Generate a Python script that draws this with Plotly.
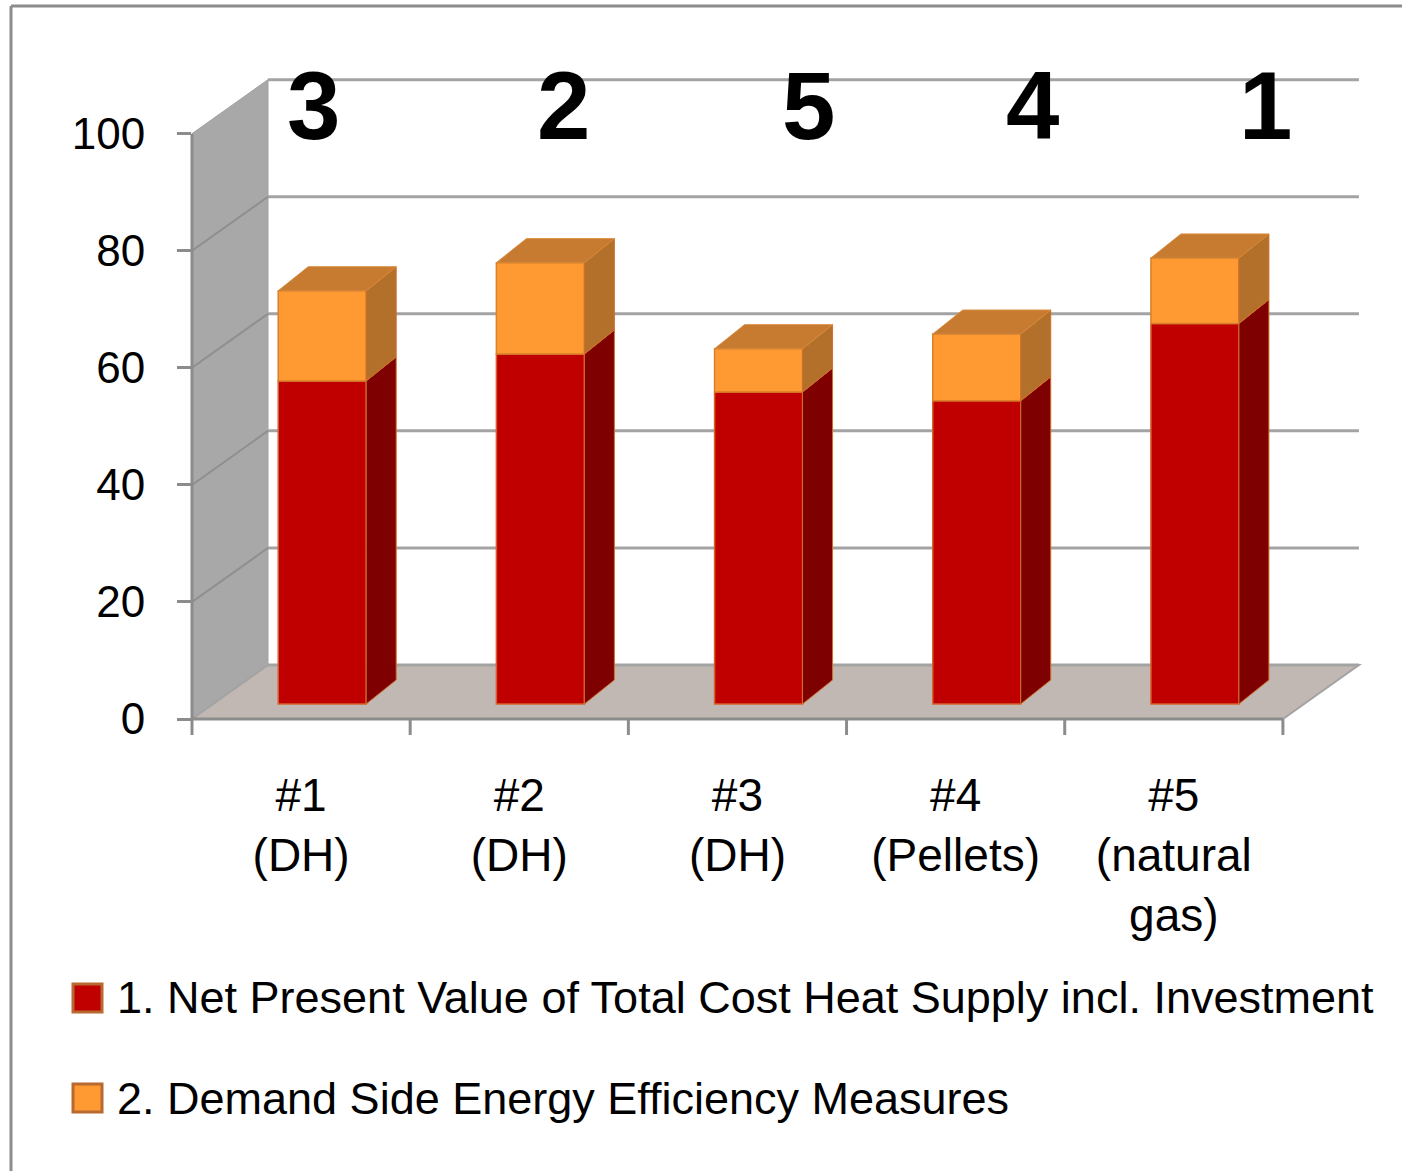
import plotly.graph_objects as go

# ---------------- data ----------------
categories = ["#1<br>(DH)", "#2<br>(DH)", "#3<br>(DH)", "#4<br>(Pellets)", "#5<br>(natural<br>gas)"]
npv_cost = [55.2, 59.8, 53.3, 51.8, 65.0]          # 1. Net Present Value ...
efficiency = [15.4, 15.6, 7.4, 11.4, 11.2]         # 2. Demand Side ...
series_names = ["1. Net Present Value of Total Cost Heat Supply incl. Investment",
                "2. Demand Side Energy Efficiency Measures"]
ranks = ["3", "2", "5", "4", "1"]
y_ticks = [0, 20, 40, 60, 80, 100]

# ---------------- geometry / style ----------------
W, H = 1402, 1171
L_M, R_M, T_M = 192, 10, 40
X_RANGE = [0, 5.5]
Y_RANGE = [0, 116]
PW = W - L_M - R_M
PH = 679
B_M = H - T_M - PH
PXX = PW / (X_RANGE[1] - X_RANGE[0])    # px per x unit
PXY = PH / (Y_RANGE[1] - Y_RANGE[0])    # px per y unit
Y0_PX = T_M + PH                         # pixel row of y=0

DX = 76 / PXX          # depth of the 3D box in x units
DY = 54 / PXY          # depth of the 3D box in y units
Z_FRONT = 15 / 54      # bar front position in depth (0=front,1=back)
BAR_DZ_X = 30 / PXX    # bar depth offsets
BAR_DZ_Y = 24 / PXY
BAR_W = 88 / PXX
n = len(categories)

RED, RED_SIDE = "#C00000", "#7E0000"
ORG, ORG_SIDE, ORG_TOP = "#FF9A33", "#B3702B", "#C67B30"
GRID = "#A3A3A3"
AXIS = "#8C8C8C"
FONT = "Liberation Sans, Arial, sans-serif"


def px_to_paper_x(px):
    return (px - L_M) / PW


def px_to_paper_y(py):
    return (Y0_PX - py) / PH


def path(points):
    return "M " + " L ".join(f"{x:.4f},{y:.4f}" for x, y in points) + " Z"


shapes = []
# left wall
shapes.append(dict(type="path", xref="x", yref="y", layer="below",
                   path=path([(0, 0), (0, 100), (DX, 100 + DY), (DX, DY)]),
                   fillcolor="#A8A8A8", line=dict(color="#A0A0A0", width=1)))
# floor
shapes.append(dict(type="path", xref="x", yref="y", layer="below",
                   path=path([(0, 0), (n, 0), (n + DX, DY), (DX, DY)]),
                   fillcolor="#C1B8B3", line=dict(color="#A3A3A3", width=2)))
# back-wall gridlines and left-wall gridlines
for v in y_ticks:
    shapes.append(dict(type="line", xref="x", yref="y", layer="below",
                       x0=DX, x1=n + DX, y0=v + DY, y1=v + DY,
                       line=dict(color=GRID, width=3)))
    if 0 < v < 100:
        shapes.append(dict(type="line", xref="x", yref="y", layer="below",
                           x0=0, x1=DX, y0=v, y1=v + DY,
                           line=dict(color="#8F8F8F", width=2)))

# bar positions (front face)
x_front = [i + 0.5 + Z_FRONT * DX for i in range(n)]
base0 = Z_FRONT * DY

# side / top faces
for i in range(n):
    xr = x_front[i] + BAR_W / 2
    xl = x_front[i] - BAR_W / 2
    segs = [(base0, base0 + npv_cost[i], RED_SIDE),
            (base0 + npv_cost[i], base0 + npv_cost[i] + efficiency[i], ORG_SIDE)]
    for y0, y1, col in segs:
        shapes.append(dict(type="path", xref="x", yref="y", layer="above",
                           path=path([(xr, y0), (xr, y1), (xr + BAR_DZ_X, y1 + BAR_DZ_Y),
                                      (xr + BAR_DZ_X, y0 + BAR_DZ_Y)]),
                           fillcolor=col, line=dict(color="#D0702A", width=1)))
    yt = base0 + npv_cost[i] + efficiency[i]
    shapes.append(dict(type="path", xref="x", yref="y", layer="above",
                       path=path([(xl, yt), (xr, yt), (xr + BAR_DZ_X, yt + BAR_DZ_Y),
                                  (xl + BAR_DZ_X, yt + BAR_DZ_Y)]),
                       fillcolor=ORG_TOP, line=dict(color="#D8893A", width=1)))

# axis lines (paper coords so they are not clipped)
shapes.append(dict(type="line", xref="paper", yref="paper",
                   x0=0, x1=0, y0=0, y1=100 / (Y_RANGE[1] - Y_RANGE[0]),
                   line=dict(color=AXIS, width=3)))
shapes.append(dict(type="line", xref="paper", yref="paper",
                   x0=0, x1=n / (X_RANGE[1] - X_RANGE[0]), y0=0, y1=0,
                   line=dict(color=AXIS, width=3)))
for i in range(n + 1):
    xp = i / (X_RANGE[1] - X_RANGE[0])
    shapes.append(dict(type="line", xref="paper", yref="paper",
                       x0=xp, x1=xp, y0=0, y1=px_to_paper_y(Y0_PX + 16),
                       line=dict(color=AXIS, width=3)))

# chart frame
shapes.append(dict(type="line", xref="paper", yref="paper",
                   x0=px_to_paper_x(11), x1=px_to_paper_x(11),
                   y0=px_to_paper_y(6), y1=px_to_paper_y(H + 5),
                   line=dict(color=AXIS, width=3)))
shapes.append(dict(type="line", xref="paper", yref="paper",
                   x0=px_to_paper_x(11), x1=px_to_paper_x(W + 5),
                   y0=px_to_paper_y(6), y1=px_to_paper_y(6),
                   line=dict(color=AXIS, width=3)))

# legend (drawn manually to get large swatches)
legend_rows_px = [998, 1098]
legend_cols = [RED, ORG]
annotations = []
for name, col, cy in zip(series_names, legend_cols, legend_rows_px):
    shapes.append(dict(type="rect", xref="paper", yref="paper",
                       x0=px_to_paper_x(73), x1=px_to_paper_x(102),
                       y0=px_to_paper_y(cy - 14), y1=px_to_paper_y(cy + 14),
                       fillcolor=col, line=dict(color="#B8692F", width=3)))
    annotations.append(dict(xref="paper", yref="paper", x=px_to_paper_x(115),
                            y=px_to_paper_y(cy), text=name, showarrow=False,
                            xanchor="left", yanchor="middle",
                            font=dict(family=FONT, size=45, color="black")))

# rank labels
rank_x_px = [313, 563, 808, 1032, 1265]
for r, xp in zip(ranks, rank_x_px):
    annotations.append(dict(xref="x", yref="paper", x=(xp - L_M) / PXX,
                            y=px_to_paper_y(106), text=f"<b>{r}</b>", showarrow=False,
                            xanchor="center", yanchor="middle",
                            font=dict(family="Liberation Sans, Arial, sans-serif",
                                      size=96, color="black")))

fig = go.Figure()
fig.add_trace(go.Bar(x=x_front, y=npv_cost, base=[base0] * n, width=BAR_W,
                     name=series_names[0],
                     marker=dict(color=RED, line=dict(color="#D8602A", width=1.5))))
fig.add_trace(go.Bar(x=x_front, y=efficiency, base=[base0 + v for v in npv_cost],
                     width=BAR_W, name=series_names[1],
                     marker=dict(color=ORG, line=dict(color="#D8802A", width=1.5))))

fig.update_layout(
    width=W, height=H,
    margin=dict(l=L_M, r=R_M, t=T_M, b=B_M),
    paper_bgcolor="white", plot_bgcolor="white",
    barmode="overlay", showlegend=False,
    shapes=shapes, annotations=annotations,
    font=dict(family=FONT, color="black"),
    xaxis=dict(range=X_RANGE, tickmode="array",
               tickvals=[i + 0.5 for i in range(n)], ticktext=categories,
               showgrid=False, zeroline=False, showline=False, ticks="",
               tickfont=dict(family=FONT, size=46, color="black"),
               ticklabelstandoff=45, fixedrange=True),
    yaxis=dict(range=Y_RANGE, tickmode="array", tickvals=y_ticks,
               showgrid=False, zeroline=False, showline=False,
               ticks="outside", ticklen=14, tickwidth=3, tickcolor=AXIS,
               tickfont=dict(family=FONT, size=44, color="black"),
               ticklabelstandoff=23, fixedrange=True),
)

fig.write_html("out.html")
